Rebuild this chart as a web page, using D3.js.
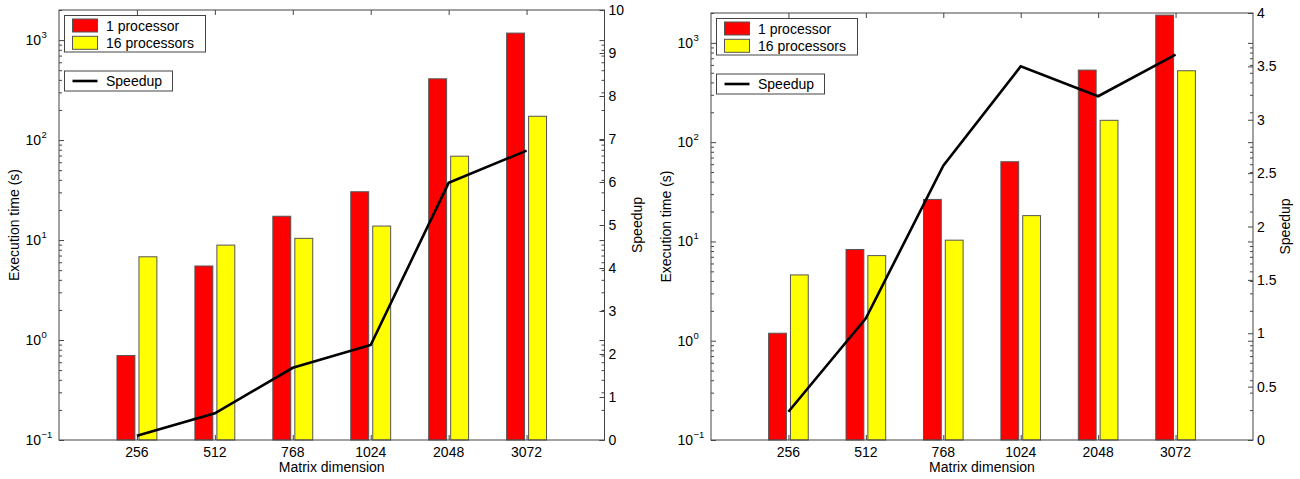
<!DOCTYPE html>
<html>
<head>
<meta charset="utf-8">
<script src="https://cdn.jsdelivr.net/npm/d3@7"></script>
<style>
    body { margin: 0; background: #fff; }
    svg text { font-family: "Liberation Sans", Arial, sans-serif; fill: #000; }
</style>
</head>
<body>
<div id="chart"></div>
<script>
"use strict";

// matrix sizes (x categories)
const categories = ["256", "512", "768", "1024", "2048", "3072"];

// left chart: execution time (s) and speedup
const leftOneProc = [0.70, 5.5, 17.3, 30.4, 410, 1175];
const leftSixteenProc = [6.8, 8.9, 10.4, 13.8, 69, 173];
const leftSpeedup = [0.10, 0.62, 1.68, 2.21, 5.98, 6.73];

// right chart
const rightOneProc = [1.19, 8.3, 26.5, 63.5, 532, 1906];
const rightSixteenProc = [4.6, 7.2, 10.3, 18.2, 166, 524];
const rightSpeedup = [0.265, 1.14, 2.57, 3.50, 3.22, 3.61];

// tick values
const timeTicks = [0.1, 1, 10, 100, 1000];
const timeTickExponents = ["\u22121", "0", "1", "2", "3"];
const leftSpeedupTicks = [0, 1, 2, 3, 4, 5, 6, 7, 8, 9, 10];
const rightSpeedupTicks = [0, 0.5, 1, 1.5, 2, 2.5, 3, 3.5, 4];

const seriesNames = ["1 processor", "16 processors"];
const lineName = "Speedup";

let svg = d3.select("#chart").append("svg")
    .attr("width", 1300)
    .attr("height", 479);

function drawPanel(p) {
    let x = d3.scaleLinear().domain([0, 7]).range([p.left, p.right]);
    let y = d3.scaleLog().domain([0.1, 2000]).range([p.bottom, p.top]);
    let y2 = d3.scaleLinear().domain([0, p.speedupMax]).range([p.bottom, p.top]);

    let g = svg.append("g");

    // minor ticks for log axis
    let minorTicks = [];
    for (let e = -1; e <= 3; e++) {
        for (let k = 2; k <= 9; k++) {
            let v = k * Math.pow(10, e);
            if (v <= 2000) minorTicks.push(v);
        }
    }

    // bars
    let bars = [
        { values: p.one, color: "#ff0000", offset: -0.256 },
        { values: p.sixteen, color: "#ffff00", offset: 0.026 }
    ];
    bars.forEach(s => {
        g.selectAll(null)
            .data(s.values)
            .enter()
            .append("rect")
            .attr("x", (_d, i) => x(i + 1 + s.offset))
            .attr("y", d => y(d))
            .attr("width", x(0.23) - x(0))
            .attr("height", d => y(0.1) - y(d))
            .style("fill", s.color)
            .style("stroke", "#555")
            .style("stroke-width", 1);
    });

    // axes (ticks pointing inside)
    let tickAxes = [
        [d3.axisRight(y).tickValues(timeTicks).tickSize(5), `translate(${p.left},0)`],
        [d3.axisRight(y).tickValues(minorTicks).tickSize(3), `translate(${p.left},0)`],
        [d3.axisLeft(y).tickValues(timeTicks).tickSize(5), `translate(${p.right},0)`],
        [d3.axisLeft(y).tickValues(minorTicks).tickSize(3), `translate(${p.right},0)`],
        [d3.axisLeft(y2).tickValues(p.speedupTicks).tickSize(5), `translate(${p.right},0)`],
        [d3.axisTop(x).tickValues([1, 2, 3, 4, 5, 6]).tickSize(5), `translate(0,${p.bottom})`],
        [d3.axisBottom(x).tickValues([1, 2, 3, 4, 5, 6]).tickSize(5), `translate(0,${p.top})`]
    ];
    tickAxes.forEach(a => {
        let ax = g.append("g")
            .attr("transform", a[1])
            .call(a[0].tickSizeOuter(0).tickFormat(""));
        ax.select(".domain").remove();
        ax.selectAll("line").attr("stroke", "#444");
    });

    // box
    g.append("rect")
        .attr("x", p.left)
        .attr("y", p.top)
        .attr("width", p.right - p.left)
        .attr("height", p.bottom - p.top)
        .style("fill", "none")
        .style("stroke", "#444")
        .style("stroke-width", 1);

    // speedup line
    let line = d3.line()
        .x((_d, i) => x(i + 1))
        .y(d => y2(d));
    g.append("path")
        .datum(p.speedup)
        .attr("d", line)
        .style("fill", "none")
        .style("stroke", "#000")
        .style("stroke-width", 2.6)
        .style("stroke-linejoin", "miter");

    // log tick labels 10^n
    timeTicks.forEach((d, i) => {
        let t = g.append("text")
            .attr("x", p.left - 18)
            .attr("y", y(d) + 5)
            .style("text-anchor", "end")
            .style("font-size", "14px")
            .text("10");
        g.append("text")
            .attr("x", p.left - 17.5)
            .attr("y", y(d) - 2)
            .style("font-size", "9.5px")
            .text(timeTickExponents[i]);
    });

    // speedup tick labels
    g.selectAll(null)
        .data(p.speedupTicks)
        .enter()
        .append("text")
        .attr("x", p.right + 4)
        .attr("y", d => y2(d) + 5)
        .style("font-size", "14px")
        .text(d => d);

    // category labels
    g.selectAll(null)
        .data(categories)
        .enter()
        .append("text")
        .attr("x", (_d, i) => x(i + 1))
        .attr("y", p.bottom + 17)
        .style("text-anchor", "middle")
        .style("font-size", "14px")
        .text(d => d);

    // axis titles
    g.append("text")
        .attr("x", (p.left + p.right) / 2)
        .attr("y", p.bottom + 32)
        .style("text-anchor", "middle")
        .style("font-size", "14px")
        .text("Matrix dimension");

    g.append("text")
        .attr("transform", `translate(${p.left - 40},${(p.top + p.bottom) / 2}) rotate(-90)`)
        .style("text-anchor", "middle")
        .style("font-size", "14px")
        .text("Execution time (s)");

    g.append("text")
        .attr("transform", `translate(${p.right + 37},${(p.top + p.bottom) / 2}) rotate(-90)`)
        .style("text-anchor", "middle")
        .style("font-size", "14px")
        .text(lineName);

    // legend for bars
    let lg = g.append("g").attr("transform", `translate(${p.left + 5.5},${p.top + 5.5})`);
    lg.append("rect")
        .attr("width", 141)
        .attr("height", 36.5)
        .style("fill", "#fff")
        .style("stroke", "#444");
    bars.forEach((s, i) => {
        lg.append("rect")
            .attr("x", 8)
            .attr("y", 3.5 + i * 17.3)
            .attr("width", 25)
            .attr("height", 13)
            .style("fill", s.color)
            .style("stroke", "#555");
        lg.append("text")
            .attr("x", 41.5)
            .attr("y", 15.3 + i * 17.3)
            .style("font-size", "14px")
            .text(seriesNames[i]);
    });

    // legend for line
    let ll = g.append("g").attr("transform", `translate(${p.left + 5.5},${p.top + 61})`);
    ll.append("rect")
        .attr("width", 108)
        .attr("height", 20)
        .style("fill", "#fff")
        .style("stroke", "#444");
    ll.append("line")
        .attr("x1", 8)
        .attr("x2", 33)
        .attr("y1", 10)
        .attr("y2", 10)
        .style("stroke", "#000")
        .style("stroke-width", 2.6);
    ll.append("text")
        .attr("x", 41.5)
        .attr("y", 15)
        .style("font-size", "14px")
        .text(lineName);
}

drawPanel({
    left: 59, right: 604.5, top: 10, bottom: 440,
    one: leftOneProc, sixteen: leftSixteenProc, speedup: leftSpeedup,
    speedupMax: 10, speedupTicks: leftSpeedupTicks
});

drawPanel({
    left: 711, right: 1253, top: 13, bottom: 440,
    one: rightOneProc, sixteen: rightSixteenProc, speedup: rightSpeedup,
    speedupMax: 4, speedupTicks: rightSpeedupTicks
});
</script>
</body>
</html>
